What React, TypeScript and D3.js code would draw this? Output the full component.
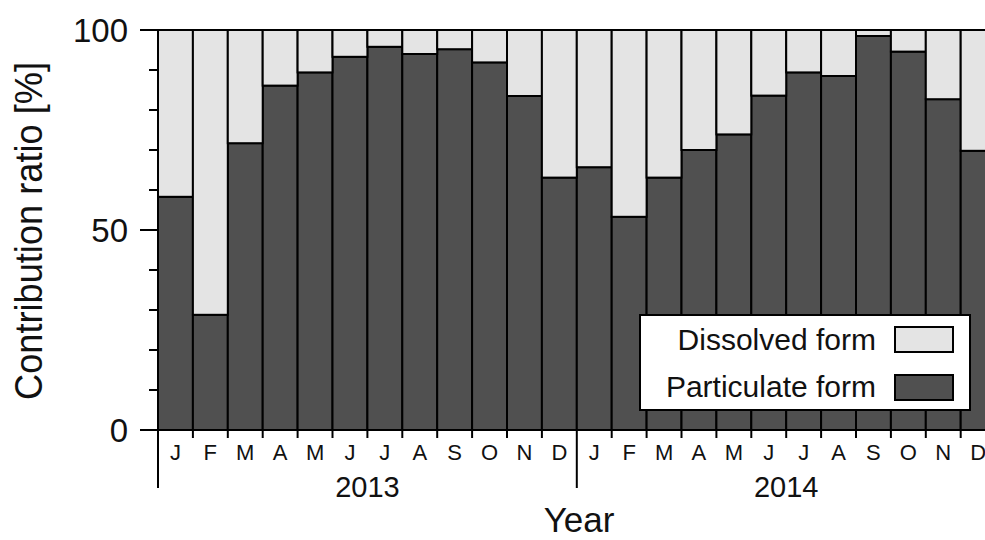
import * as d3 from 'd3'

// month initials, one row per year
const months = ['J', 'F', 'M', 'A', 'M', 'J', 'J', 'A', 'S', 'O', 'N', 'D']
const years = ['2013', '2014']

// contribution ratio [%]
const particulate2013 = [58.3, 28.8, 71.7, 86.1, 89.4, 93.3, 95.8, 94.0, 95.2, 91.9, 83.5, 63.1]
const particulate2014 = [65.7, 53.3, 63.1, 70.0, 73.9, 83.6, 89.4, 88.5, 98.5, 94.6, 82.7, 69.8]
const dissolved2013 = [41.7, 71.2, 28.3, 13.9, 10.6, 6.7, 4.2, 6.0, 4.8, 8.1, 16.5, 36.9]
const dissolved2014 = [34.3, 46.7, 36.9, 30.0, 26.1, 16.4, 10.6, 11.5, 1.5, 5.4, 17.3, 30.2]

const yTicks = [0, 50, 100]

const legendItems = [
  { key: 'dissolved', label: 'Dissolved form' },
  { key: 'particulate', label: 'Particulate form' }
]

const colors: Record<string, string> = {
  particulate: '#505050',
  dissolved: '#e4e4e4'
}

const FONT = '"Liberation Sans", Arial, Helvetica, sans-serif'

const App = () => {
  const width = 985,
    height = 540,
    left = 158,
    top = 30,
    bottom = 430,
    step = 34.9

  const rows = years.flatMap((yr, yi) =>
    months.map((m, mi) => ({
      id: `${yr}-${mi}`,
      year: yr,
      month: m,
      particulate: yi === 0 ? particulate2013[mi] : particulate2014[mi],
      dissolved: yi === 0 ? dissolved2013[mi] : dissolved2014[mi]
    }))
  )

  const x = d3.scaleBand<string>()
    .domain(rows.map(d => d.id))
    .range([left, left + step * rows.length])
    .padding(0)

  const y = d3.scaleLinear()
    .domain([0, 100])
    .range([bottom, top])

  const series = d3.stack<any>()
    .keys(['particulate', 'dissolved'])(rows)

  const minorTicks = d3.range(0, 101, 10).filter(t => !yTicks.includes(t))

  // year boundaries, at the left edge of every January
  const yearStarts = years.map(yr => x(`${yr}-0`) as number)
  const yearMid = years.map(yr => {
    const a = x(`${yr}-0`) as number
    const b = (x(`${yr}-11`) as number) + x.bandwidth()
    return (a + b) / 2
  })

  return (
    <svg width={width} height={height}
      style={{ position: 'absolute', left: 0, top: 0, background: '#fff' }}
      fontFamily={FONT}>
      {/* BARS */}
      {series.map(s => (
        <g key={s.key}>
          {s.map((d: any) => (
            <rect key={d.data.id}
              x={x(d.data.id)}
              y={y(Math.min(d[1], 100))}
              width={x.bandwidth()}
              height={y(d[0]) - y(Math.min(d[1], 100))}
              fill={colors[s.key]}
              stroke='#000'
              strokeWidth={2} />
          ))}
        </g>
      ))}

      {/* FRAME: top line and left axis */}
      <line x1={140} x2={width} y1={y(100)} y2={y(100)} stroke='#000' strokeWidth={2} />
      <line x1={left} x2={left} y1={y(100)} y2={y(0)} stroke='#000' strokeWidth={2} />
      <line x1={left} x2={width} y1={y(0)} y2={y(0)} stroke='#000' strokeWidth={2} />

      {/* Y TICKS */}
      {yTicks.map(t => (
        <g key={t}>
          <line x1={left - 18} x2={left} y1={y(t)} y2={y(t)} stroke='#000' strokeWidth={2} />
          <text x={128} y={y(t)} dy='0.36em' textAnchor='end' fontSize={33} fill='#111'>{t}</text>
        </g>
      ))}
      {minorTicks.map(t => (
        <line key={t} x1={left - 9} x2={left} y1={y(t)} y2={y(t)} stroke='#000' strokeWidth={2} />
      ))}

      <text transform={`translate(42, 231) rotate(-90)`} textAnchor='middle'
        fontSize={38} textLength={338} lengthAdjust='spacingAndGlyphs' fill='#111'>
        Contribution ratio [%]
      </text>

      {/* X TICKS AND MONTHS */}
      {rows.map((d, i) => (
        <g key={d.id}>
          {i % 12 !== 0 && (
            <line x1={x(d.id)} x2={x(d.id)} y1={y(0)} y2={y(0) + 8} stroke='#000' strokeWidth={2} />
          )}
          <text x={(x(d.id) as number) + x.bandwidth() / 2} y={460}
            textAnchor='middle' fontSize={22} fill='#111'>{d.month}</text>
        </g>
      ))}
      {yearStarts.map((xs, i) => (
        <line key={i} x1={xs} x2={xs} y1={y(0)} y2={488} stroke='#000' strokeWidth={2} />
      ))}
      {years.map((yr, i) => (
        <text key={yr} x={yearMid[i]} y={497} textAnchor='middle' fontSize={29} fill='#111'>{yr}</text>
      ))}
      <text x={579} y={532} textAnchor='middle' fontSize={35} fill='#111'>Year</text>

      {/* LEGEND */}
      <rect x={640} y={315} width={330} height={95} fill='#fff' stroke='#000' strokeWidth={2} />
      {legendItems.map((it, i) => (
        <g key={it.key}>
          <text x={876} y={350 + i * 47} textAnchor='end' fontSize={30} fill='#111'>{it.label}</text>
          <rect x={895} y={327 + i * 48} width={58} height={25}
            fill={colors[it.key]} stroke='#000' strokeWidth={2} />
        </g>
      ))}
    </svg>
  )
}

export default App
